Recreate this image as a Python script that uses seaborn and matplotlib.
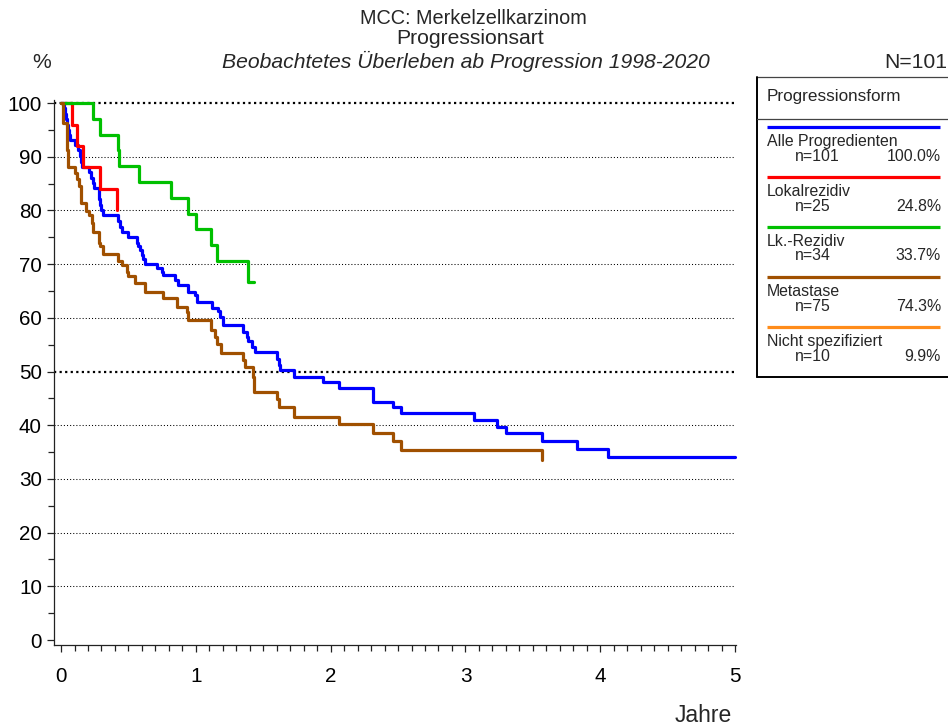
import numpy as np
import pandas as pd
import matplotlib
matplotlib.use("Agg")
import matplotlib.pyplot as plt
import seaborn as sns
from matplotlib.ticker import MultipleLocator

# ---------------- data ----------------
groups = ["Alle Progredienten", "Lokalrezidiv", "Lk.-Rezidiv", "Metastase", "Nicht spezifiziert"]
n_counts = ["n=101", "n=25", "n=34", "n=75", "n=10"]
pct_labels = ["100.0%", "24.8%", "33.7%", "74.3%", "9.9%"]
group_colors = ["#0000FF", "#FF0000", "#00C000", "#A05000", "#FF8C1A"]

alle_t = [0.0, 0.020, 0.030, 0.040, 0.047, 0.055, 0.062, 0.067, 0.104, 0.128, 0.141, 0.150,
          0.153, 0.210, 0.220, 0.235, 0.245, 0.280, 0.290, 0.294, 0.314, 0.425, 0.438, 0.450,
          0.500, 0.561, 0.574, 0.586, 0.598, 0.610, 0.623, 0.710, 0.747, 0.759, 0.846, 0.870,
          0.944, 0.994, 1.006, 1.118, 1.167, 1.180, 1.200, 1.205, 1.353, 1.377, 1.390, 1.414,
          1.439, 1.600, 1.620, 1.625, 1.728, 1.941, 2.065, 2.312, 2.465, 2.520, 3.064, 3.237,
          3.302, 3.566, 3.825, 4.060, 5.000]
alle_s = [100.0, 99.0, 98.0, 97.0, 96.0, 95.0, 94.1, 93.1, 92.2, 91.2, 90.1, 89.1,
          88.1, 87.1, 86.1, 85.1, 84.1, 82.1, 81.1, 80.1, 79.1, 78.0, 77.0, 76.0,
          75.0, 74.0, 73.3, 72.6, 71.7, 71.0, 70.1, 69.2, 68.6, 67.9, 67.0, 66.1,
          64.9, 64.2, 63.0, 61.8, 61.2, 60.2, 59.6, 58.7, 57.4, 56.5, 55.6, 54.6,
          53.7, 52.4, 51.2, 50.3, 49.0, 48.1, 46.9, 44.4, 43.4, 42.2, 41.0, 39.7,
          38.5, 37.0, 35.5, 34.0, 34.0]

lokal_t = [0.0, 0.084, 0.120, 0.166, 0.290, 0.418]
lokal_s = [100.0, 96.0, 92.0, 88.0, 84.0, 80.0]

lk_t = [0.0, 0.235, 0.290, 0.420, 0.432, 0.580, 0.816, 0.944, 1.000, 1.110, 1.155, 1.390, 1.430]
lk_s = [100.0, 97.1, 94.1, 91.2, 88.2, 85.3, 82.4, 79.4, 76.5, 73.5, 70.6, 66.6, 66.6]

meta_t = [0.0, 0.012, 0.042, 0.047, 0.054, 0.104, 0.121, 0.136, 0.146, 0.185, 0.210, 0.227,
          0.235, 0.284, 0.289, 0.309, 0.425, 0.450, 0.487, 0.500, 0.549, 0.623, 0.759, 0.858,
          0.932, 0.944, 1.110, 1.140, 1.160, 1.190, 1.353, 1.365, 1.422, 1.432, 1.600, 1.620,
          1.728, 2.065, 2.312, 2.465, 2.520, 3.566]
meta_s = [100.0, 96.2, 93.7, 91.2, 88.1, 87.0, 85.8, 84.5, 81.4, 79.9, 79.1, 77.6,
          76.0, 73.9, 73.3, 71.9, 70.5, 69.8, 68.6, 67.8, 66.4, 64.9, 63.6, 62.1,
          61.0, 59.6, 57.8, 56.5, 55.2, 53.5, 52.2, 50.8, 49.0, 46.1, 44.8, 43.3,
          41.6, 40.2, 38.5, 37.0, 35.4, 33.5]

x_ticks = [0, 1, 2, 3, 4, 5]
y_ticks = [0, 10, 20, 30, 40, 50, 60, 70, 80, 90, 100]

series = [(groups[0], alle_t, alle_s), (groups[1], lokal_t, lokal_s),
          (groups[2], lk_t, lk_s), (groups[3], meta_t, meta_s)]
df = pd.concat([pd.DataFrame({"Jahre": t, "Prozent": s, "Gruppe": g}) for g, t, s in series],
               ignore_index=True)

# ---------------- style ----------------
sns.set_style("ticks")
plt.rcParams['font.family'] = ['Liberation Sans', 'DejaVu Sans']

W, H = 948, 726
fig = plt.figure(figsize=(W / 100, H / 100), dpi=100)
fig.patch.set_facecolor("white")

ax = fig.add_axes([54.3 / W, 1 - 645 / H, (736.4 - 54.3) / W, (645 - 99.8) / H])
ax.set_xlim(-0.05, 5.01)
ax.set_ylim(-0.93, 100.6)

for v in y_ticks[1:]:
    if v in (50, 100):
        ax.axhline(v, xmax=0.998, color="black", lw=1.6, ls=(0, (1, 1.5)), zorder=1)
    else:
        ax.axhline(v, xmax=0.998, color="black", lw=0.75, ls=(0, (1, 2)), zorder=1)

pal = dict(zip(groups, group_colors))
sns.lineplot(data=df, x="Jahre", y="Prozent", hue="Gruppe", palette=pal,
             estimator=None, sort=False, drawstyle="steps-post", linewidth=2.3,
             legend=False, ax=ax, zorder=3)
for ln in ax.lines:
    ln.set_clip_on(False)

ax.set_xlabel("")
ax.set_ylabel("")
ax.set_xticks(x_ticks)
ax.set_yticks(y_ticks)
ax.xaxis.set_minor_locator(MultipleLocator(0.1))
ax.yaxis.set_minor_locator(MultipleLocator(5))
for side in ("top", "right"):
    ax.spines[side].set_visible(False)
for side in ("left", "bottom"):
    ax.spines[side].set_color("#222222")
    ax.spines[side].set_linewidth(0.9)
ax.tick_params(which="major", direction="out", length=5, width=0.9, color="#222222",
               labelsize=14.9, labelcolor="black")
ax.tick_params(which="minor", direction="out", length=4, width=0.9, color="#222222")
ax.tick_params(axis="x", which="major", pad=11)
ax.tick_params(axis="y", which="major", pad=4)
ax.set_facecolor("none")

# ---------------- overlay for text & legend (pixel coords) ----------------
ov = fig.add_axes([0, 0, 1, 1], facecolor="none")
ov.set_xlim(0, W)
ov.set_ylim(H, 0)
ov.axis("off")

ov.text(473, 18, "MCC: Merkelzellkarzinom", ha="center", va="center", fontsize=14.3)
ov.text(470, 39, "Progressionsart", ha="center", va="center", fontsize=15.2)
ov.text(466, 61, "Beobachtetes Überleben ab Progression 1998-2020", ha="center",
        va="center", fontsize=15.2, style="italic")
ov.text(42, 62, "%", ha="center", va="center", fontsize=15.2)
ov.text(947, 62, "N=101", ha="right", va="center", fontsize=15.2)
ov.text(732, 715, "Jahre", ha="right", va="center", fontsize=16.5)

# legend box
ov.plot([757, 948], [77, 77], color="#444444", lw=0.9, clip_on=False)
ov.plot([757, 757], [77, 377], color="black", lw=1.4, clip_on=False)
ov.plot([757, 948], [377, 377], color="black", lw=1.4, clip_on=False)
ov.plot([757, 948], [119, 119], color="#444444", lw=0.9, clip_on=False)
ov.text(767, 96, "Progressionsform", ha="left", va="center", fontsize=12.3)

line_y = [126.7, 176.7, 226.5, 276.7, 326.7]
for g, nn, pct, c, ly in zip(groups, n_counts, pct_labels, group_colors, line_y):
    ov.plot([767, 940], [ly, ly], color=c, lw=2.3, solid_capstyle="butt")
    ov.text(767, ly + 14.5, g, ha="left", va="center", fontsize=11.4)
    ov.text(795, ly + 29.5, nn, ha="left", va="center", fontsize=11.4)
    ov.text(941, ly + 29.5, pct, ha="right", va="center", fontsize=11.4)

fig.savefig("out.png", dpi=100)
